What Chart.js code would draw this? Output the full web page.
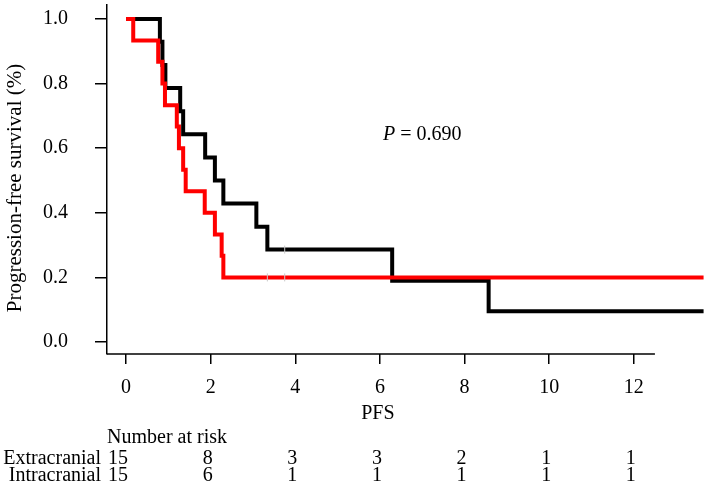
<!DOCTYPE html>
<html>
<head>
<meta charset="utf-8">
<script src="https://cdn.jsdelivr.net/npm/chart.js@4.4.0/dist/chart.umd.min.js"></script>
<style>
html, body { margin: 0; padding: 0; background: #fff; }
</style>
</head>
<body>
<canvas id="chart" width="709" height="484"></canvas>
<script>
// Kaplan-Meier steps (time in PFS units, survival fraction)
var extraTimes = [0, 0.80, 0.86, 0.93, 1.28, 1.35, 1.87, 2.10, 2.30, 3.08, 3.34, 6.29, 8.57, 13.65];
var extraSurv  = [1.0, 0.929, 0.857, 0.786, 0.714, 0.643, 0.571, 0.5, 0.429, 0.357, 0.286, 0.190, 0.095, 0.095];
var intraTimes = [0, 0.17, 0.76, 0.86, 0.92, 1.20, 1.25, 1.35, 1.41, 1.86, 2.10, 2.26, 2.30, 13.65];
var intraSurv  = [1.0, 0.933, 0.867, 0.8, 0.733, 0.667, 0.6, 0.533, 0.467, 0.4, 0.333, 0.267, 0.2, 0.2];

// censoring marks
var extraCensorTimes = [3.75];
var extraCensorSurv  = [0.286];
var intraCensorTimes = [3.34, 3.75];
var intraCensorSurv  = [0.2, 0.2];

var xTicks = [0, 2, 4, 6, 8, 10, 12];
var yTicks = [0, 0.2, 0.4, 0.6, 0.8, 1.0];

var riskGroups = ['Extracranial', 'Intracranial'];
var riskExtra = [15, 8, 3, 3, 2, 1, 1];
var riskIntra = [15, 6, 1, 1, 1, 1, 1];

var yTitle = 'Progression-free survival (%)';
var pLabel = 'P';
var pValue = ' = 0.690';

var X_MIN = -0.45, X_MAX = 13.66, X_AXIS_END = 12.5;
var Y_MIN = -0.037, Y_MAX = 1.043;

var FONT = "'Liberation Serif', 'Times New Roman', serif";
Chart.defaults.font.family = FONT;
Chart.defaults.color = '#000';

function points(xs, ys) {
    return xs.map(function(x, i) { return { x: x, y: ys[i] }; });
}

// extra texts: x axis line, axis titles, risk table, p value
var extras = {
    id: 'extras',
    afterDraw: function(chart) {
        var ctx = chart.ctx;
        var xs = chart.scales.x;
        var area = chart.chartArea;
        ctx.save();
        ctx.strokeStyle = '#000';
        ctx.lineWidth = 1.5;
        ctx.beginPath();
        ctx.moveTo(area.left, area.bottom);
        ctx.lineTo(xs.getPixelForValue(X_AXIS_END), area.bottom);
        ctx.stroke();

        ctx.fillStyle = '#000';
        ctx.textBaseline = 'alphabetic';

        // y title
        ctx.save();
        ctx.font = '21px ' + FONT;
        ctx.translate(21, 188);
        ctx.rotate(-Math.PI / 2);
        ctx.textAlign = 'center';
        ctx.fillText(yTitle, 0, 0);
        ctx.restore();

        ctx.font = '20px ' + FONT;
        ctx.textAlign = 'center';
        ctx.fillText('PFS', xs.getPixelForValue(6) - 2, 419);

        ctx.textAlign = 'left';
        ctx.fillText('Number at risk', area.left, 443);

        var rows = [riskExtra, riskIntra];
        for (var r = 0; r < rows.length; r++) {
            var y = 464 + r * 17;
            ctx.textAlign = 'right';
            ctx.fillText(riskGroups[r], 101, y);
            for (var i = 0; i < rows[r].length; i++) {
                ctx.fillText(String(rows[r][i]), xs.getPixelForValue(xTicks[i]) + 2, y);
            }
        }

        ctx.textAlign = 'left';
        ctx.font = 'italic 20px ' + FONT;
        ctx.fillText(pLabel, 383, 140);
        var w = ctx.measureText(pLabel).width;
        ctx.font = '20px ' + FONT;
        ctx.fillText(pValue, 383 + w, 140);
        ctx.restore();
    }
};

var ctx = document.getElementById('chart').getContext('2d');
var chart = new Chart(ctx, {
    type: 'line',
    data: {
        datasets: [{
            type: 'scatter',
            data: points(intraCensorTimes, intraCensorSurv).concat(points(extraCensorTimes, extraCensorSurv)),
            pointStyle: 'line',
            rotation: 90,
            pointRadius: 4,
            borderColor: '#c8c8c8',
            backgroundColor: '#c8c8c8',
            borderWidth: 1,
            showLine: false,
            order: 0
        }, {
            label: 'Intracranial',
            data: points(intraTimes, intraSurv),
            borderColor: '#ff0000',
            borderWidth: 4,
            stepped: 'before',
            pointRadius: 0,
            fill: false,
            order: 1
        }, {
            label: 'Extracranial',
            data: points(extraTimes, extraSurv),
            borderColor: '#000000',
            borderWidth: 4,
            stepped: 'before',
            pointRadius: 0,
            fill: false,
            order: 2
        }]
    },
    options: {
        responsive: false,
        animation: false,
        devicePixelRatio: 1,
        layout: { padding: { top: 3, right: 4, left: 0, bottom: 0 } },
        plugins: {
            legend: { display: false },
            tooltip: { enabled: false }
        },
        scales: {
            x: {
                type: 'linear',
                min: X_MIN,
                max: X_MAX,
                afterBuildTicks: function(ax) { ax.ticks = xTicks.map(function(v) { return { value: v }; }); },
                afterFit: function(ax) { ax.height = 130; ax.paddingLeft = 0; ax.paddingRight = 0; },
                border: { display: false },
                grid: { drawOnChartArea: false, drawTicks: true, tickLength: 10, color: '#000', lineWidth: 1.5 },
                ticks: {
                    font: { size: 20 },
                    color: '#000',
                    padding: 12,
                    maxRotation: 0,
                    autoSkip: false,
                    callback: function(v) { return String(v); }
                }
            },
            y: {
                min: Y_MIN,
                max: Y_MAX,
                afterBuildTicks: function(ax) { ax.ticks = yTicks.map(function(v) { return { value: v }; }); },
                afterFit: function(ax) { ax.width = 107; ax.paddingTop = 0; ax.paddingBottom = 0; },
                border: { display: true, color: '#000', width: 1.5 },
                grid: { drawOnChartArea: false, tickLength: 12, color: '#000', lineWidth: 1.5 },
                ticks: {
                    font: { size: 20 },
                    color: '#000',
                    padding: 27,
                    callback: function(v) { return v.toFixed(1); }
                }
            }
        }
    },
    plugins: [extras]
});
</script>
</body>
</html>
